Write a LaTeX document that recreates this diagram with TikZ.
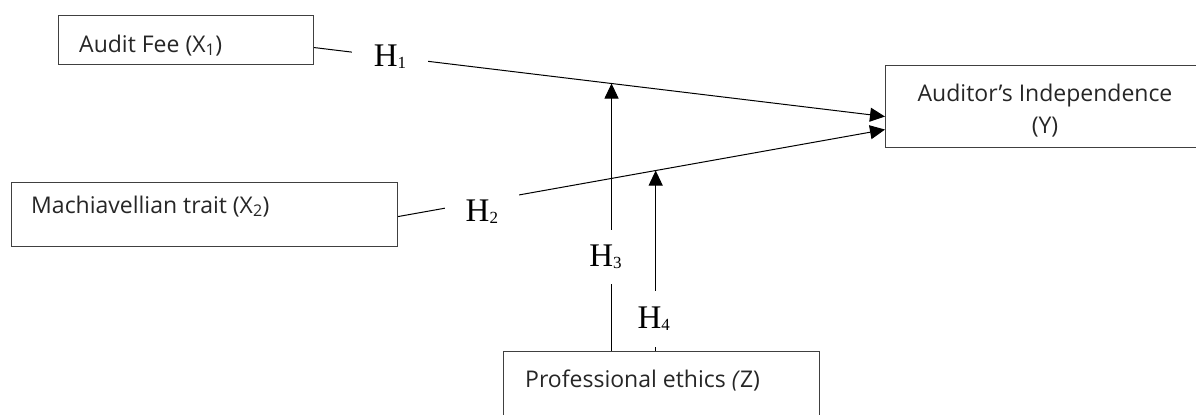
\documentclass[tikz,border=0pt]{standalone}
\usepackage{fontspec}
\setmainfont{Open Sans}
\newfontfamily\hfont{Liberation Serif}
\usepackage{xcolor}
\usepackage{tikz}
\usetikzlibrary{arrows.meta}
\tikzset{
  box/.style={draw=black!75, line width=1.1bp, inner sep=0pt, anchor=north west},
  txt/.style={inner sep=0pt, text=black!85, font=\fontsize{23bp}{32bp}\selectfont},
  hyp/.style={fill=white, inner sep=0pt, font=\hfont\fontsize{33bp}{33bp}\selectfont},
  link/.style={line width=1bp},
  tip/.style={-{Triangle[length=15bp,width=14bp]}}
}
\newcommand{\hsub}[1]{H\raisebox{-2bp}{\fontsize{17bp}{17bp}\selectfont #1}}

\begin{document}
\begin{tikzpicture}[x=1bp,y=-1bp]
\useasboundingbox (0,0) rectangle (1196,414);
\clip (0,0) rectangle (1196,414);
\node[box, minimum width=255bp, minimum height=49bp] (fee) at (58,15) {};
\node[box, minimum width=386bp, minimum height=64bp] (mach) at (11,182) {};
\node[box, minimum width=330bp, minimum height=82bp] (indep) at (885,65) {};
\node[box, minimum width=316bp, minimum height=90bp] (prof) at (503,351) {};
\node[txt, anchor=base west] (feetxt) at (79,52) {Audit Fee (X\textsubscript{1})};
\node[txt, anchor=base west] (machtxt) at (31,213) {Machiavellian trait (X\textsubscript{2})};
\node[txt, align=center] (indeptxt) at (1045,111) {Auditor’s Independence\\(Y)};
\node[txt, anchor=base west] (proftxt) at (525,387) {Professional ethics \textit{(}Z)};
\draw[link, tip] ([yshift=-7.5bp]fee.east) -- node[hyp, pos=0.133, inner xsep=22bp, inner ysep=1bp] (h1) {\hsub{1}} coordinate[pos=0.521] (m1) ([yshift=-10bp]indep.west);
\draw[link, tip] ([yshift=-2bp]mach.east) -- node[hyp, pos=0.172, yshift=-10bp, inner xsep=21bp, inner ysep=7bp] (h2) {\hsub{2}} coordinate[pos=0.529] (m2) ([yshift=-23bp]indep.west);
\draw[link, tip] (prof.north -| m1) -- node[hyp, pos=0.351, xshift=-6bp, inner xsep=2bp, inner ysep=15bp] (h3) {\hsub{3}} (m1);
\draw[link, tip] (prof.north -| m2) -- node[hyp, pos=0.177, xshift=-2bp, inner xsep=2bp, inner ysep=16bp] (h4) {\hsub{4}} (m2);
\end{tikzpicture}
\end{document}
